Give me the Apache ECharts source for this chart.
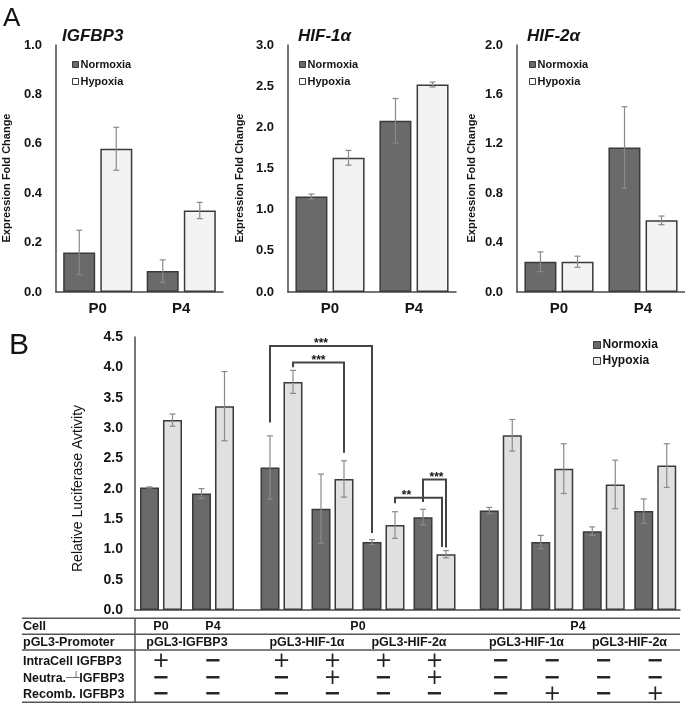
<!DOCTYPE html>
<html>
<head>
<meta charset="utf-8">
<script src="https://cdn.jsdelivr.net/npm/echarts@6/dist/echarts.min.js"></script>
<style>
  html, body { margin: 0; padding: 0; background: #fff; }
  #chart { width: 685px; height: 705px; }
</style>
</head>
<body>
<div id="chart"></div>
<script>
// ---- panel A: expression fold change ----
const aGroups = ['P0', 'P4'];
const aTitles = ['IGFBP3', 'HIF-1α', 'HIF-2α'];
const aMax = [1.0, 3.0, 2.0];
const aStep = [0.2, 0.5, 0.4];
const aNormoxia = [[0.16, 0.085], [1.16, 2.08], [0.245, 1.17]];
const aNormoxiaErr = [[0.09, 0.045], [0.03, 0.27], [0.08, 0.33]];
const aHypoxia = [[0.58, 0.33], [1.63, 2.52], [0.245, 0.58]];
const aHypoxiaErr = [[0.087, 0.033], [0.09, 0.03], [0.045, 0.035]];

// ---- panel B: relative luciferase activity ----
const bNormoxia = [2.02, 1.92, 2.35, 1.67, 1.12, 1.53, 1.64, 1.12, 1.30, 1.63];
const bNormoxiaErr = [0.01, 0.08, 0.52, 0.57, 0.04, 0.13, 0.05, 0.11, 0.07, 0.20];
const bHypoxia = [3.13, 3.36, 3.76, 2.16, 1.40, 0.92, 2.88, 2.33, 2.07, 2.38];
const bHypoxiaErr = [0.10, 0.57, 0.19, 0.30, 0.22, 0.06, 0.26, 0.41, 0.40, 0.36];
const bGroupSizes = [2, 4, 4];

// table under panel B (one entry per bar pair)
const rowLabels = ['Cell', 'pGL3-Promoter', 'IntraCell IGFBP3', 'Neutra.{s|─┴}IGFBP3', 'Recomb. IGFBP3'];
const cellRow = ['P0', 'P4', 'P0', 'P0', 'P0', 'P0', 'P4', 'P4', 'P4', 'P4'];
const promoterRow = ['pGL3-IGFBP3', 'pGL3-IGFBP3', 'pGL3-HIF-1α', 'pGL3-HIF-1α', 'pGL3-HIF-2α', 'pGL3-HIF-2α',
  'pGL3-HIF-1α', 'pGL3-HIF-1α', 'pGL3-HIF-2α', 'pGL3-HIF-2α'];
const intraCellRow = ['+', '−', '+', '+', '+', '+', '−', '−', '−', '−'];
const neutraRow = ['−', '−', '−', '+', '−', '+', '−', '−', '−', '−'];
const recombRow = ['−', '−', '−', '−', '−', '−', '−', '+', '−', '+'];

// significance brackets: bar pair index + which bar, heights in axis units
const brackets = [
  { from: [2, 'N'], to: [4, 'N'], top: 4.35, leftEnd: 3.09, rightEnd: 1.27, label: '***' },
  { from: [2, 'H'], to: [3, 'H'], top: 4.08, leftEnd: 4.00, rightEnd: 2.59, label: '***' },
  { from: [4, 'H'], to: [5, 'H'], top: 1.85, leftEnd: 1.76, rightEnd: 1.04, label: '**', dxTo: -4, dxLabel: -12 },
  { from: [5, 'N'], to: [5, 'H'], top: 2.15, leftEnd: 1.78, rightEnd: 1.03, label: '***', dxLabel: 2 }
];

const FONT = '"Liberation Sans", Arial, sans-serif';
const DARK = '#6a6a6a';
const EDGE = '#3a3a3a';
const ERR = '#8a8a8a';
const AXIS = '#4a4a4a';
const TXT = '#141414';

const chart = echarts.init(document.getElementById('chart'));

function errSeries(xi, vals, errs, offset) {
  return {
    name: 'err', type: 'custom', xAxisIndex: xi, yAxisIndex: xi, z: 5, silent: true,
    data: vals.map((v, i) => [i, v - errs[i], v + errs[i]]),
    renderItem: (params, api) => {
      const lo = api.coord([api.value(0), api.value(1)]);
      const hi = api.coord([api.value(0), api.value(2)]);
      const x = lo[0] + offset;
      const s = { stroke: ERR, lineWidth: 1.2 };
      return {
        type: 'group',
        children: [
          { type: 'line', shape: { x1: x, y1: lo[1], x2: x, y2: hi[1] }, style: s },
          { type: 'line', shape: { x1: x - 3, y1: hi[1], x2: x + 3, y2: hi[1] }, style: s },
          { type: 'line', shape: { x1: x - 3, y1: lo[1], x2: x + 3, y2: lo[1] }, style: s }
        ]
      };
    }
  };
}

function barSeries(name, xi, data, color, width, gap) {
  return {
    name, type: 'bar', xAxisIndex: xi, yAxisIndex: xi, data,
    barWidth: width, barGap: gap, silent: true,
    itemStyle: { color, borderColor: EDGE, borderWidth: 1.5 }
  };
}

const grids = [], xAxes = [], yAxes = [], series = [], titles = [], legends = [];

// panel A
const aLefts = [55, 288, 517];
const aNameGaps = [44, 43, 40];
const aTitleLefts = [62, 298, 527];
const aLegendLefts = [72, 299, 529];
aTitles.forEach((t, g) => {
  grids.push({ left: aLefts[g], top: 45, width: 168, height: 247 });
  xAxes.push({
    type: 'category', gridIndex: g, data: aGroups,
    axisLine: { lineStyle: { color: AXIS, width: 1.5 } }, axisTick: { show: false },
    axisLabel: { fontFamily: FONT, fontWeight: 'bold', fontSize: 15, color: TXT, margin: 9 }
  });
  yAxes.push({
    type: 'value', gridIndex: g, min: 0, max: aMax[g], interval: aStep[g],
    axisLine: { show: true, lineStyle: { color: AXIS, width: 1.5 } }, axisTick: { show: false },
    splitLine: { show: false },
    axisLabel: { fontFamily: FONT, fontWeight: 'bold', fontSize: 13, color: TXT, margin: 14, formatter: v => v.toFixed(1) },
    name: 'Expression Fold Change', nameLocation: 'middle', nameGap: aNameGaps[g],
    nameTextStyle: { fontFamily: FONT, fontWeight: 'bold', fontSize: 11, color: TXT, padding: [0, 19, 0, 0] }
  });
  series.push(barSeries('Normoxia', g, aNormoxia[g], DARK, 32, '16%'));
  series.push(barSeries('Hypoxia', g, aHypoxia[g], '#f3f3f3', 32, '16%'));
  series.push(errSeries(g, aNormoxia[g], aNormoxiaErr[g], -18.5));
  series.push(errSeries(g, aHypoxia[g], aHypoxiaErr[g], 18.5));
  titles.push({
    text: t, left: aTitleLefts[g], top: 28, padding: 0,
    textStyle: { fontFamily: FONT, fontWeight: 'bold', fontStyle: 'italic', fontSize: 17, color: TXT }
  });
  legends.push({
    left: aLegendLefts[g], top: 59, orient: 'vertical', padding: 0, itemGap: 6,
    itemWidth: 6, itemHeight: 6, icon: 'rect', selectedMode: false,
    textStyle: { fontFamily: FONT, fontWeight: 'bold', fontSize: 11, color: TXT, padding: [0, 0, 0, -3] },
    data: [
      { name: 'Normoxia', itemStyle: { color: DARK, borderColor: EDGE, borderWidth: 1 } },
      { name: 'Hypoxia', itemStyle: { color: '#ffffff', borderColor: EDGE, borderWidth: 1 } }
    ]
  });
});

// panel B background grid (axes only)
grids.push({ left: 135, top: 337, width: 545, height: 273 });
xAxes.push({
  type: 'value', gridIndex: 3, min: 0, max: 1,
  axisLine: { show: true, lineStyle: { color: AXIS, width: 1.5 } },
  axisTick: { show: false }, axisLabel: { show: false }, splitLine: { show: false }
});
yAxes.push({
  type: 'value', gridIndex: 3, min: 0, max: 4.5, interval: 0.5,
  axisLine: { show: true, lineStyle: { color: AXIS, width: 1.5 } }, axisTick: { show: false },
  splitLine: { show: false },
  axisLabel: { fontFamily: FONT, fontWeight: 'bold', fontSize: 14, color: TXT, margin: 12, formatter: v => v.toFixed(1) },
  name: 'Relative Luciferase Avtivity', nameLocation: 'middle', nameGap: 50,
  nameTextStyle: { fontFamily: FONT, fontSize: 14, color: TXT, padding: [0, 30, 0, 0] }
});

// panel B bar groups
const bLefts = [135, 256, 475];
const bWidths = [104, 204, 206];
let start = 0;
const pairPos = [];
bGroupSizes.forEach((n, k) => {
  const gi = 4 + k;
  const idx = [];
  for (let i = 0; i < n; i++) { idx.push(String(start + i)); pairPos.push([gi, i]); }
  grids.push({ left: bLefts[k], top: 337, width: bWidths[k], height: 273 });
  xAxes.push({ type: 'category', gridIndex: gi, data: idx, show: false });
  yAxes.push({ type: 'value', gridIndex: gi, min: 0, max: 4.5, show: false });
  const nv = bNormoxia.slice(start, start + n), hv = bHypoxia.slice(start, start + n);
  series.push(barSeries('Normoxia', gi, nv, DARK, 19, '21%'));
  series.push(barSeries('Hypoxia', gi, hv, '#e0e0e0', 19, '21%'));
  series.push(errSeries(gi, nv, bNormoxiaErr.slice(start, start + n), -11.5));
  series.push(errSeries(gi, hv, bHypoxiaErr.slice(start, start + n), 11.5));
  start += n;
});

legends.push({
  left: 593, top: 339, orient: 'vertical', padding: 0, itemGap: 4,
  itemWidth: 7, itemHeight: 7, icon: 'rect', selectedMode: false,
  textStyle: { fontFamily: FONT, fontWeight: 'bold', fontSize: 12, color: TXT, padding: [0, 0, 0, -3] },
  data: [
    { name: 'Normoxia', itemStyle: { color: DARK, borderColor: EDGE, borderWidth: 1 } },
    { name: 'Hypoxia', itemStyle: { color: '#ececec', borderColor: EDGE, borderWidth: 1 } }
  ]
});

titles.push({ text: 'A', left: 3, top: 6, padding: 0, textStyle: { fontFamily: FONT, fontWeight: 'normal', fontSize: 26, color: TXT } });
titles.push({ text: 'B', left: 9, top: 331, padding: 0, textStyle: { fontFamily: FONT, fontWeight: 'normal', fontSize: 30, color: TXT } });

chart.setOption({
  animation: false,
  backgroundColor: '#fff',
  title: titles,
  legend: legends,
  grid: grids,
  xAxis: xAxes,
  yAxis: yAxes,
  series
});

// ---- brackets and table, placed through the axes ----
function pairX(p, which) {
  const [gi, i] = pairPos[p];
  const c = chart.convertToPixel({ gridIndex: gi }, [i, 0])[0];
  return which === 'N' ? c - 11.5 : which === 'H' ? c + 11.5 : c;
}
function yPx(v) { return chart.convertToPixel({ gridIndex: 3 }, [0, v])[1]; }

const graphic = [];
brackets.forEach(b => {
  const x1 = pairX(b.from[0], b.from[1]);
  const x2 = pairX(b.to[0], b.to[1]) + (b.dxTo || 0);
  const yt = yPx(b.top);
  graphic.push({
    type: 'polyline', silent: true,
    shape: { points: [[x1, yPx(b.leftEnd)], [x1, yt], [x2, yt], [x2, yPx(b.rightEnd)]] },
    style: { stroke: '#444', lineWidth: 2, fill: null }
  });
  graphic.push({
    type: 'text', x: (x1 + x2) / 2 + (b.dxLabel || 0), y: yt - 2, silent: true,
    style: { text: b.label, font: 'bold 12px ' + FONT, fill: TXT, align: 'center', verticalAlign: 'middle' }
  });
});

const rowY = [626.7, 642.7, 661.7, 678.3, 694.3];
const lineY = [618.3, 634.3, 650, 702.3];
lineY.forEach(y => graphic.push({
  type: 'line', silent: true, shape: { x1: 22, y1: y, x2: 680, y2: y },
  style: { stroke: '#555', lineWidth: 1.5 }
}));
graphic.push({
  type: 'line', silent: true, shape: { x1: 135, y1: 618.3, x2: 135, y2: 702.3 },
  style: { stroke: '#555', lineWidth: 1.5 }
});
rowLabels.forEach((t, r) => graphic.push({
  type: 'text', x: 23, y: rowY[r], silent: true,
  style: {
    text: t, font: 'bold 12.5px ' + FONT, fill: TXT, align: 'left', verticalAlign: 'middle',
    rich: { s: { font: '11px "DejaVu Sans"', fill: '#666' } }
  }
}));

// merged text rows: consecutive equal labels inside a group share one centred label
function runs(row) {
  const out = [];
  let s = 0;
  bGroupSizes.forEach(n => {
    let a = s;
    for (let i = s + 1; i <= s + n; i++) {
      if (i === s + n || row[i] !== row[a]) { out.push([a, i - 1, row[a]]); a = i; }
    }
    s += n;
  });
  return out;
}
[cellRow, promoterRow].forEach((row, r) => {
  runs(row).forEach(([a, b, t]) => graphic.push({
    type: 'text', x: (pairX(a) + pairX(b)) / 2, y: rowY[r], silent: true,
    style: { text: t, font: 'bold 12.5px ' + FONT, fill: TXT, align: 'center', verticalAlign: 'middle' }
  }));
});
[intraCellRow, neutraRow, recombRow].forEach((row, r) => {
  row.forEach((t, p) => graphic.push({
    type: 'text', x: pairX(p), y: rowY[r + 2], silent: true,
    style: {
      text: t, font: (t === '+' ? 'normal 21px ' : 'bold 21px ') + '"DejaVu Sans"',
      fill: '#222', align: 'center', verticalAlign: 'middle'
    }
  }));
});

chart.setOption({ graphic });
</script>
</body>
</html>
